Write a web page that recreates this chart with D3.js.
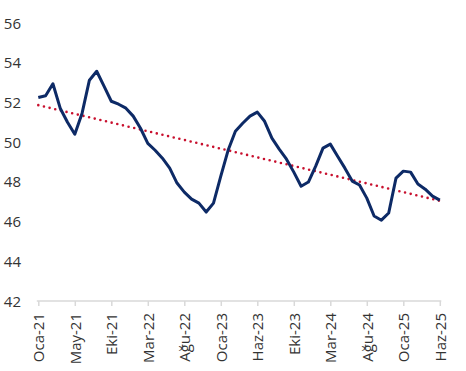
<!DOCTYPE html>
<html>
<head>
<meta charset="utf-8">
<script src="https://cdn.jsdelivr.net/npm/d3@7"></script>
<style>
  body { margin: 0; background: #fff; }
  svg { display: block; }
  text { font-family: "Open Sans", sans-serif; }
</style>
</head>
<body>
<svg id="chart" width="466" height="371"></svg>
<script>
// monthly-ish index series
const values = [
  52.25, 52.34, 52.94, 51.71, 51.0, 50.40, 51.46, 53.12, 53.57, 52.82,
  52.06, 51.91, 51.71, 51.31, 50.70, 49.94, 49.59, 49.19, 48.69, 47.94,
  47.48, 47.13, 46.93, 46.48, 46.93, 48.29, 49.59, 50.55, 50.95, 51.31,
  51.51, 51.05, 50.20, 49.65, 49.14, 48.49, 47.78, 47.99, 48.79, 49.70,
  49.90, 49.29, 48.69, 48.04, 47.84, 47.18, 46.28, 46.07, 46.43, 48.19,
  48.54, 48.49, 47.89, 47.63, 47.28, 47.08
];
const tickIdx = [0, 5, 10, 15, 20, 25, 30, 35, 40, 45, 50, 55];
const tickLabels = ['Oca-21', 'May-21', 'Eki-21', 'Mar-22', 'Ağu-22', 'Oca-23',
  'Haz-23', 'Eki-23', 'Mar-24', 'Ağu-24', 'Oca-25', 'Haz-25'];
const yTicks = [42, 44, 46, 48, 50, 52, 54, 56];

const svg = d3.select('#chart');

const x = d3.scaleLinear().domain([0, values.length - 1]).range([38.3, 439.8]);
const y = d3.scaleLinear().domain([42, 56]).range([301, 23]);

// x axis
const xAxis = svg.append('g')
  .attr('transform', `translate(0,${y(42)})`)
  .call(d3.axisBottom(x)
    .tickValues(tickIdx)
    .tickFormat((d, i) => tickLabels[i])
    .tickSizeOuter(0)
    .tickSize(5));
xAxis.select('.domain')
  .attr('d', `M${x(0) - 1.5},0H${x(values.length - 1) + 1.5}`)
  .attr('stroke', '#d9d9d9').attr('stroke-width', 1.5);
xAxis.selectAll('.tick line').attr('stroke', '#d9d9d9').attr('stroke-width', 1.5);
xAxis.selectAll('.tick text')
  .attr('transform', 'rotate(-90)')
  .attr('text-anchor', 'end')
  .attr('x', -12)
  .attr('y', 0)
  .attr('dy', '0.35em')
  .attr('fill', '#333')
  .style('font-size', '15px');

// y axis, labels only
const yAxis = svg.append('g')
  .attr('transform', 'translate(21,0)')
  .call(d3.axisLeft(y).tickValues(yTicks).tickSize(0).tickPadding(0));
yAxis.select('.domain').remove();
yAxis.selectAll('.tick text')
  .attr('fill', '#333')
  .attr('dy', '0.34em')
  .style('font-size', '15px');

// linear trend (least squares)
const n = values.length;
const mx = d3.mean(values, (d, i) => i);
const my = d3.mean(values);
const slope = d3.sum(values, (d, i) => (i - mx) * (d - my)) / d3.sum(values, (d, i) => (i - mx) * (i - mx));
const icpt = my - slope * mx;
const trend = [0, n - 1].map(i => [i, icpt + slope * i]);

svg.append('path')
  .datum(trend)
  .attr('d', d3.line().x(d => x(d[0])).y(d => y(d[1])))
  .attr('fill', 'none')
  .attr('stroke', '#c8102e')
  .attr('stroke-width', 2.6)
  .attr('stroke-linecap', 'round')
  .attr('stroke-dasharray', '0 5.8');

svg.append('path')
  .datum(values)
  .attr('d', d3.line().x((d, i) => x(i)).y(d => y(d)))
  .attr('fill', 'none')
  .attr('stroke', '#0d2a66')
  .attr('stroke-width', 3)
  .attr('stroke-linejoin', 'round');
</script>
</body>
</html>
